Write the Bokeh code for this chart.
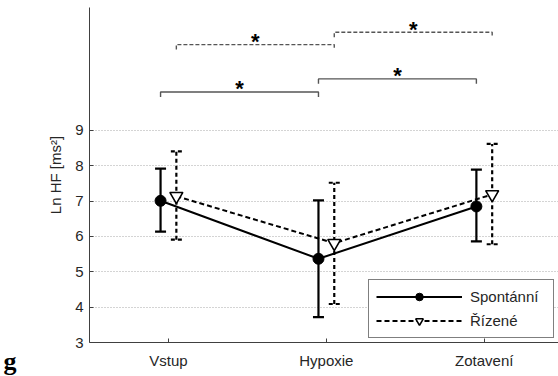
from bokeh.plotting import figure
from bokeh.models import (ColumnDataSource, Range1d, FixedTicker, Whisker, TeeHead,
                          Legend, LegendItem, Label)
from bokeh.core.properties import value
from bokeh.embed import file_html
from bokeh.resources import INLINE

# ---------------- data ----------------
categories = ["Vstup", "Hypoxie", "Zotavení"]
spont_mean = [7.01, 5.37, 6.85]
spont_upper = [7.92, 7.02, 7.89]
spont_lower = [6.14, 3.72, 5.86]
rizene_mean = [7.14, 5.81, 7.19]
rizene_upper = [8.41, 7.52, 8.62]
rizene_lower = [5.91, 4.09, 5.78]
y_ticks = [3, 4, 5, 6, 7, 8, 9]

# significance brackets (category index from, to, bracket level)
sig_spont_from = [0, 1]
sig_spont_to = [1, 2]
sig_spont_y = [10.09, 10.46]
sig_riz_from = [0, 1]
sig_riz_to = [1, 2]
sig_riz_y = [11.43, 11.78]

FONT = "Liberation Sans"
DODGE = 0.05
DROP = 0.14

xc = [i + 1 for i in range(len(categories))]
x_sp = [x - DODGE for x in xc]
x_rz = [x + DODGE for x in xc]

src_sp = ColumnDataSource(dict(x=x_sp, y=spont_mean, up=spont_upper, lo=spont_lower))
src_rz = ColumnDataSource(dict(x=x_rz, y=rizene_mean, up=rizene_upper, lo=rizene_lower))

p = figure(width=558, height=376, x_range=Range1d(0.5, 3.47), y_range=Range1d(3, 12.48),
           output_backend="svg", toolbar_location=None,
           min_border_left=89, min_border_right=0, min_border_top=7, min_border_bottom=34)
p.outline_line_color = None
p.background_fill_color = "white"
p.border_fill_color = "white"

# axes
for ax in (p.xaxis[0], p.yaxis[0]):
    ax.axis_line_color = "#404040"
    ax.axis_line_width = 1
    ax.major_tick_line_color = "#404040"
    ax.major_tick_in = 4
    ax.major_tick_out = 0
    ax.minor_tick_line_color = None
    ax.major_label_text_font = FONT
    ax.major_label_text_font_size = "15px"
    ax.major_label_text_color = "#262626"

p.xaxis.ticker = FixedTicker(ticks=xc)
p.xaxis.major_label_overrides = {x: c for x, c in zip(xc, categories)}
p.xaxis.major_label_standoff = 9
p.yaxis.ticker = FixedTicker(ticks=y_ticks)
p.yaxis.major_label_standoff = 6
p.yaxis.axis_label = "Ln HF [ms²]"
p.yaxis.axis_label_text_font = FONT
p.yaxis.axis_label_text_font_size = "15px"
p.yaxis.axis_label_text_font_style = "normal"
p.yaxis.axis_label_text_color = "#262626"
p.yaxis.axis_label_standoff = 8

p.xgrid.visible = False
p.ygrid.ticker = FixedTicker(ticks=y_ticks)
p.ygrid.grid_line_color = "#a8a8a8"
p.ygrid.grid_line_dash = "1 2"
p.ygrid.grid_line_width = 1

# error bars
w_sp = Whisker(base="x", upper="up", lower="lo", source=src_sp, dimension="height",
               line_color="black", line_width=2.2,
               upper_head=TeeHead(size=11, line_width=2.2, line_color="black"),
               lower_head=TeeHead(size=11, line_width=2.2, line_color="black"))
w_rz = Whisker(base="x", upper="up", lower="lo", source=src_rz, dimension="height",
               line_color="black", line_width=2.2, line_dash="4 3",
               upper_head=TeeHead(size=11, line_width=2.2, line_color="black", line_dash="4 3"),
               lower_head=TeeHead(size=11, line_width=2.2, line_color="black", line_dash="4 3"))
p.add_layout(w_sp)
p.add_layout(w_rz)

# lines and markers
l_sp = p.line("x", "y", source=src_sp, line_color="black", line_width=2)
l_rz = p.line("x", "y", source=src_rz, line_color="black", line_width=2, line_dash="5 3")
m_sp = p.scatter("x", "y", source=src_sp, marker="circle", size=11,
                 fill_color="black", line_color="black")
m_rz = p.scatter("x", "y", source=src_rz, marker="inverted_triangle", size=13,
                 fill_color="white", line_color="black", line_width=1.6)

# significance brackets
def brackets(xfrom, xto, levels, xpos, dash):
    xs, ys, mx = [], [], []
    for a, b, lv in zip(xfrom, xto, levels):
        x0, x1 = xpos[a], xpos[b]
        xs.append([x0, x0, x1, x1])
        ys.append([lv - DROP, lv, lv, lv - DROP])
        mx.append((x0 + x1) / 2)
    kw = dict(line_color="#555555", line_width=1.4)
    if dash:
        kw["line_dash"] = "4 2"
    p.multi_line(xs, ys, **kw)
    p.text(x=mx, y=list(levels), text=["*"] * len(mx), text_align="center",
           text_baseline="middle", text_font=value(FONT), text_font_style="bold",
           text_font_size="22px", text_color="black", y_offset=-3)

brackets(sig_spont_from, sig_spont_to, sig_spont_y, x_sp, False)
brackets(sig_riz_from, sig_riz_to, sig_riz_y, x_rz, True)

legend = Legend(items=[LegendItem(label="Spontánní", renderers=[l_sp, m_sp]),
                       LegendItem(label="Řízené", renderers=[l_rz, m_rz])],
                location="bottom_right", margin=4, padding=7, spacing=5,
                glyph_width=86, glyph_height=19, label_height=19, label_width=76,
                label_standoff=8, border_line_color="black", border_line_width=1,
                background_fill_color="white", background_fill_alpha=1,
                label_text_font=FONT, label_text_font_size="15px",
                label_text_color="#262626")
p.add_layout(legend)

# panel letter, drawn in the left side panel so it is not clipped by the frame
p.add_layout(Label(x=-0.045, y=2.45, text="g",
                   text_font="Liberation Serif", text_font_style="bold",
                   text_baseline="alphabetic",
                   text_font_size="26px", text_color="black"), "left")

open("out.html", "w").write(file_html(p, INLINE))
